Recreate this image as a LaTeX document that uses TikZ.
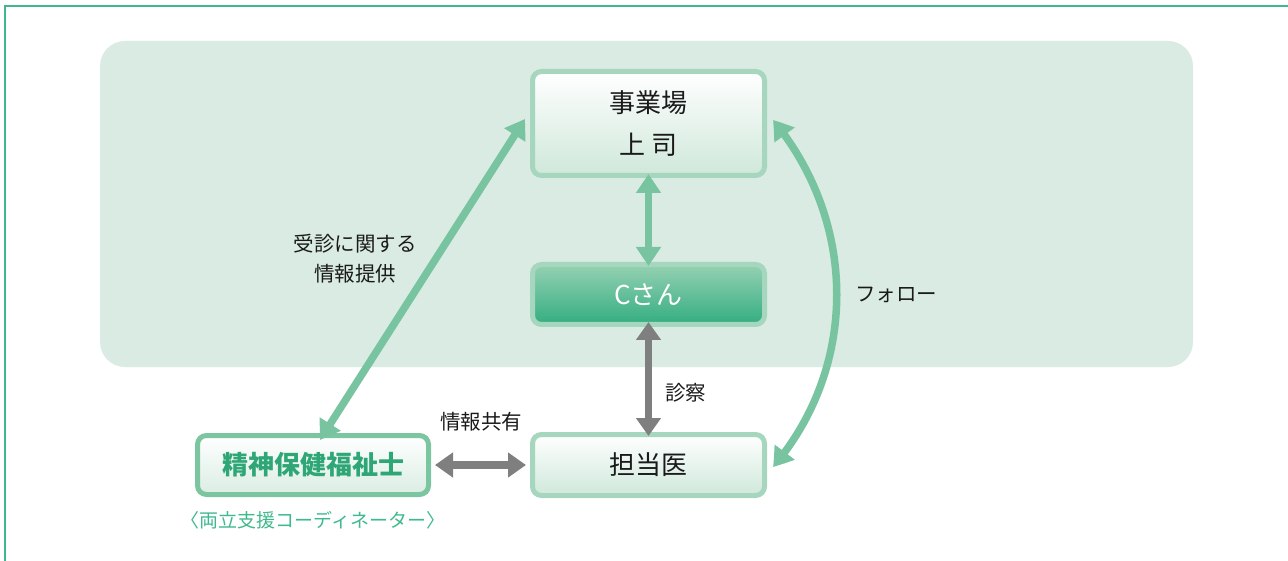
\documentclass[tikz,border=0pt]{standalone}
\usepackage{fontspec}
\setmainfont{Noto Sans CJK JP}
\usetikzlibrary{arrows.meta,bending}
\definecolor{framecol}{HTML}{3FB98B}
\definecolor{panel}{HTML}{D9EBE2}
\definecolor{boxborder}{HTML}{A6D7BE}
\definecolor{boxbottom}{HTML}{CFE8DA}
\definecolor{cbtop}{HTML}{95D1B3}
\definecolor{cbbottom}{HTML}{33AD80}
\definecolor{pswborder}{HTML}{7CC5A1}
\definecolor{pswbottom}{HTML}{DAEDE3}
\definecolor{pswtext}{HTML}{2FA676}
\definecolor{garr}{HTML}{78C4A1}
\definecolor{grarr}{HTML}{7F7F7F}
\definecolor{txt}{HTML}{1A1A1A}
\tikzset{
  box/.style={draw=boxborder, line width=5pt, rounded corners=9pt,
    top color=white, bottom color=boxbottom, minimum width=232pt,
    text=txt, font=\fontsize{26}{42}\selectfont, align=center, inner sep=0pt},
  cbox/.style={box, top color=cbtop, bottom color=cbbottom, text=white},
  pswbox/.style={box, draw=pswborder, bottom color=pswbottom, text=pswtext,
    font=\fontsize{26}{30}\selectfont\bfseries},
  lbl/.style={text=txt, font=\fontsize{20.5}{30}\selectfont, align=center, inner sep=0pt},
  garrow/.style={draw=garr, line width=7.5pt, {Triangle[length=19pt,width=24pt,bend]}-{Triangle[length=19pt,width=24pt,bend]}},
  grarrow/.style={draw=grarr, line width=7.5pt, {Triangle[length=18pt,width=24pt]}-{Triangle[length=18pt,width=24pt]}}
}
\begin{document}
\begin{tikzpicture}[x=1pt,y=-1pt]
\useasboundingbox (0,0) rectangle (1288,561);
\draw[framecol, line width=2pt] (5,562) -- (5,6) -- (1289,6);
\fill[panel, rounded corners=25pt] (100,41) rectangle (1193,367);

\node[box, minimum height=104pt] (boss) at (648.5,123.5) {事業場\\上 司};
\node[cbox, minimum height=60pt] (c) at (648.5,294.5) {Cさん};
\node[box, minimum height=61pt] (doc) at (648.5,465) {担当医};
\node[pswbox, minimum width=231pt, minimum height=59pt] (psw) at (313,465) {精神保健福祉士};
\node[text=framecol, font=\fontsize{19}{22}\selectfont, inner sep=0pt] (coord) at (313,520) {〈両立支援コーディネーター〉};

\draw[garrow] ([yshift=4pt]boss.south) -- ([yshift=-4pt]c.north);
\draw[grarrow] ([yshift=5pt]c.south) -- ([yshift=-4pt]doc.north);
\draw[grarrow] ([xshift=4pt]psw.east) -- ([xshift=-4pt]doc.west);
\draw[garrow] ([shift={(7pt,-7pt)}]psw.north) -- ([shift={(-5pt,4.5pt)}]boss.west);
\draw[garrow] ([shift={(6pt,3.5pt)}]boss.east) .. controls (858,223) and (858,367) .. ([shift={(6pt,-2pt)}]doc.east);

\node[lbl] (l1) at (355,259) {受診に関する\\情報提供};
\node[lbl] (l2) at (481,422) {情報共有};
\node[lbl, anchor=west] (l3) at (665,393) {診察};
\node[lbl, anchor=west] (l4) at (855,295) {フォロー};
\end{tikzpicture}
\end{document}
